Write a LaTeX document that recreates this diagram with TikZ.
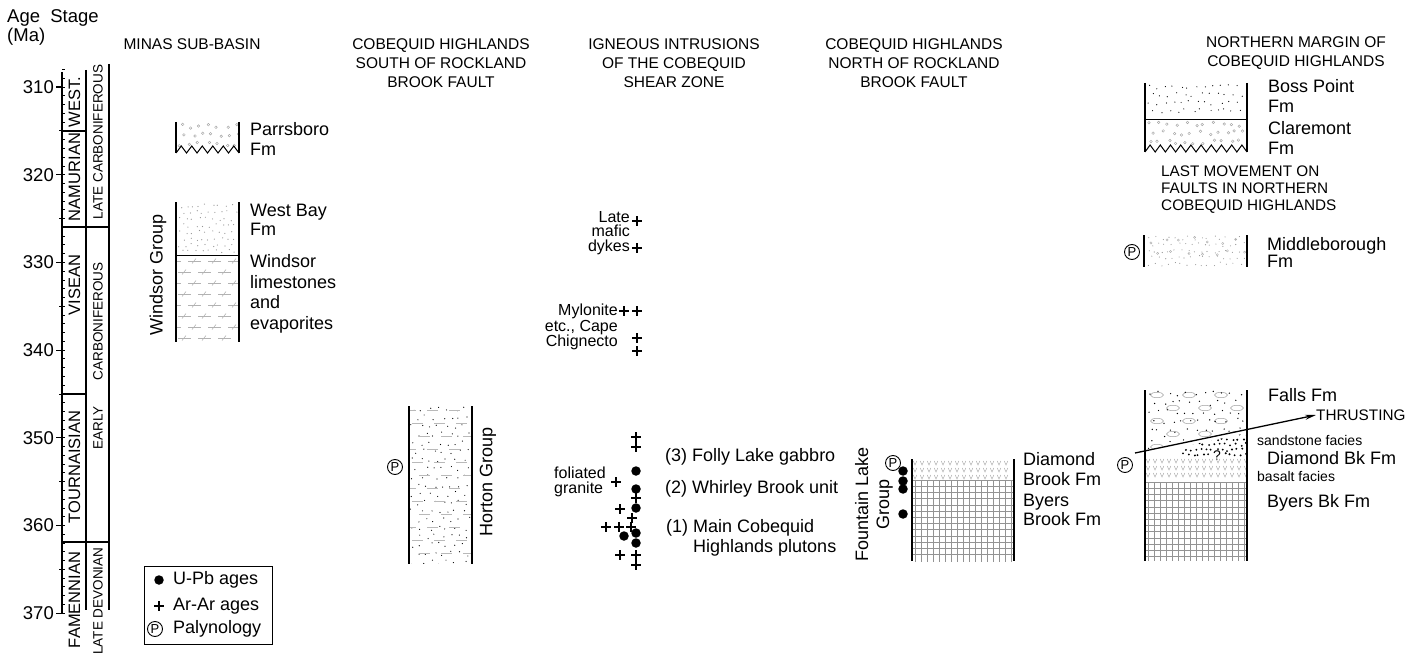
\documentclass[tikz,border=0pt]{standalone}
\usepackage{fontspec}
\setmainfont{Liberation Sans}
\usetikzlibrary{arrows.meta}
\newcommand\jdots[7]{\pgfmathtruncatemacro\jnx{(#3-#1)/#5}\pgfmathtruncatemacro\jny{(#4-#2)/#5}\foreach \ji in {0,...,\jnx}{\foreach \jj in {0,...,\jny}{\pgfmathsetmacro\rpx{#1+(\ji+0.5*mod(\jj,2))*#5+(rnd-0.5)*#5*0.6}\pgfmathsetmacro\rpy{#2+\jj*#5+(rnd-0.5)*#5*0.6}\fill[#6] (\rpx,\rpy) circle[radius=#7];}}}
\newcommand\jcircs[7]{\pgfmathtruncatemacro\jnx{(#3-#1)/#5}\pgfmathtruncatemacro\jny{(#4-#2)/#5}\foreach \ji in {0,...,\jnx}{\foreach \jj in {0,...,\jny}{\pgfmathsetmacro\rpx{#1+(\ji+0.5*mod(\jj,2))*#5+(rnd-0.5)*#5*0.5}\pgfmathsetmacro\rpy{#2+\jj*#5+(rnd-0.5)*#5*0.5}\draw[#6] (\rpx,\rpy) circle[radius=#7];}}}
\newcommand\vmarks[4]{\foreach \vy in {#4}{\foreach \vx in {#1,#2,...,#3}{\draw[gray!70,line width=0.45pt] (\vx-1.8,\vy-2)--(\vx,\vy+2)--(\vx+1.8,\vy-2);}}}
\begin{document}
\begin{tikzpicture}[x=1pt,y=-1pt,
  every node/.style={inner sep=0pt},
  lbl/.style={font=\fontsize{18}{19.5}\selectfont, align=left, anchor=west},
  sml/.style={font=\fontsize{16}{15}\selectfont},
  hdr/.style={font=\fontsize{15.5}{19}\selectfont, align=center},
  stg/.style={font=\fontsize{16.5}{16}\selectfont, rotate=90},
  per/.style={font=\fontsize{13.5}{13}\selectfont, rotate=90},
  side/.style={line width=2pt},
  bnd/.style={line width=1pt},
  pc/.style={circle, draw, line width=0.9pt, minimum size=15pt, font=\fontsize{13}{13}\selectfont},
  dt/.style={circle, fill, minimum size=9.5pt},
  pl/.style={minimum size=9pt, append after command={(\tikzlastnode.north) edge[line width=1.3pt] (\tikzlastnode.south) (\tikzlastnode.west) edge[line width=1.3pt] (\tikzlastnode.east)}},
  gr/.style={gray!70, line width=0.45pt},
]
\useasboundingbox (0,0) rectangle (1416,658);
\pgfmathsetseed{7}

% ---------- time scale ----------
\node[lbl, font=\fontsize{18.5}{19}\selectfont] (agehd) at (7,27) {Age\ \ Stage\\(Ma)};
\draw[line width=1.2pt] (62,72) -- (62,613);
\foreach \a in {308,...,370}{\draw[line width=0.8pt] (62,{87+(\a-310)*8.77}) -- ++(3,0);}
\foreach \a in {310,315,...,370}{\draw[line width=0.8pt] (62,{87+(\a-310)*8.77}) -- ++(-3.5,0);}
\foreach \a in {310,320,...,370}{\draw[line width=1.2pt] (62,{87+(\a-310)*8.77}) -- ++(-6,0);
  \node[anchor=east, font=\fontsize{18.5}{18}\selectfont] (t\a) at (54,{87+(\a-310)*8.77}) {\a};}
\draw[line width=1.2pt] (86,70) -- (86,610);
\draw[line width=1.2pt] (109,64) -- (109,610);
\draw[line width=1.2pt] (62,131) -- (86,131);
\draw[line width=1.2pt] (62,227) -- (109,227);
\draw[line width=1.2pt] (62,394) -- (86,394);
\draw[line width=1.2pt] (62,542) -- (109,542);
\node[stg] (west) at (74.5,102) {WEST.};
\node[stg] (namur) at (74.5,177) {NAMURIAN};
\node[stg] (visean) at (74.5,285) {VISEAN};
\node[stg] (tourn) at (74.5,467) {TOURNAISIAN};
\node[stg] (famen) at (74.5,600) {FAMENNIAN};
\node[per] (latecarb) at (98,142) {LATE CARBONIFEROUS};
\node[per] (earlycarb) at (98,356) {EARLY\hspace{26pt}CARBONIFEROUS};
\node[per] (latedev) at (98,601) {LATE DEVONIAN};

% ---------- headers ----------
\node[hdr] (h1) at (192,44) {MINAS SUB-BASIN};
\node[hdr] (h2) at (441,63) {COBEQUID HIGHLANDS\\SOUTH OF ROCKLAND\\BROOK FAULT};
\node[hdr] (h3) at (674,63) {IGNEOUS INTRUSIONS\\OF THE COBEQUID\\SHEAR ZONE};
\node[hdr] (h4) at (914,63) {COBEQUID HIGHLANDS\\NORTH OF ROCKLAND\\BROOK FAULT};
\node[hdr] (h5) at (1296,53) {NORTHERN MARGIN OF\\COBEQUID HIGHLANDS};

% ---------- Minas sub-basin ----------
\jcircs{181}{126}{236}{146}{9}{gray!70, line width=0.45pt}{1.3pt}
\draw[side] (176,122) -- (176,153);
\draw[side] (239,122) -- (239,153);
\draw[line width=1pt] (176,153) \foreach \i in {1,...,6}{ -- ({176+(\i-0.5)*10.5},146) -- ({176+\i*10.5},153)};
\node[lbl] (parrs) at (250,139) {Parrsboro\\Fm};

\jdots{180}{206}{236}{252}{6.5}{gray!85}{0.6pt}
\begin{scope}
\clip (176,256) rectangle (239,342);
\foreach \r in {0,...,7}{
  \pgfmathsetmacro\ry{261+\r*11}
  \pgfmathsetmacro\ro{mod(\r,2)*10}
  \foreach \i in {0,1,2,3}{
    \draw[gray!60, line width=0.55pt] ({168+\ro+\i*20},\ry) -- ++(13,0);
    \draw[gray!60, line width=0.55pt] ({172+\ro+\i*20},\ry+2.5) -- ++(4,-5);
  }}
\end{scope}
\draw[side] (176,202) -- (176,342);
\draw[side] (239,202) -- (239,342);
\draw[bnd] (176,255) -- (239,255);
\node[lbl] (westbay) at (250,220) {West Bay\\Fm};
\node[lbl, font=\fontsize{18}{20.5}\selectfont] (windsor) at (250,294) {Windsor\\limestones\\and\\evaporites};
\node[font=\fontsize{18}{18}\selectfont, rotate=90] (windgrp) at (158,275) {Windsor Group};

% ---------- Horton ----------
\begin{scope}
\clip (409,406) rectangle (472,563);
\jdots{413}{409}{470}{563}{8.5}{black}{0.6pt}
\foreach \r in {0,...,11}{
  \pgfmathsetmacro\ry{410+\r*13}
  \pgfmathsetmacro\ro{mod(\r,3)*7}
  \foreach \i in {0,1,2}{
    \draw[gray!55, line width=0.6pt] ({405+\ro+\i*22},\ry) -- ++(11,0);
  }}
\end{scope}
\draw[side] (409,406) -- (409,564);
\draw[side] (472,406) -- (472,564);
\node[pc] (pHort) at (395,467) {P};
\node[font=\fontsize{18}{18}\selectfont, rotate=90] (horton) at (488,482) {Horton Group};

% ---------- Igneous intrusions ----------
\node[sml, align=right, anchor=east, font=\fontsize{16}{14.5}\selectfont] (dykes) at (630,233) {Late\\mafic\\dykes};
\node[sml, align=right, anchor=east, font=\fontsize{16}{15.5}\selectfont] (mylo) at (618,327) {Mylonite\\etc., Cape\\Chignecto};
\node[sml, align=left, anchor=west, font=\fontsize{16}{14.5}\selectfont] (folgr) at (554,482) {foliated\\granite};
\foreach \n/\x/\y in {a/637/221, b/637/248, c/624/311, d/637/311, e/637/338, f/637/351, g/636/437, h/636/447, i/616/482, j/636/498, k/620/509, l/632/518, m/606/527, n/619/527, o/631/527, p/620/555, q/636/555, r/636/565}{
  \node[pl] (ar\n) at (\x,\y) {};}
\foreach \n/\x/\y in {a/636/471, b/636/489, c/636/508, d/624/536, e/636/533, f/636/543}{
  \node[dt] (up\n) at (\x,\y) {};}
\node[lbl] (folly) at (665,457) {(3) Folly Lake gabbro};
\node[lbl] (whirl) at (665,489) {(2) Whirley Brook unit};
\node[lbl] (mainc) at (666,538) {(1) Main Cobequid\\\phantom{(1) }Highlands plutons};

% ---------- Fountain Lake ----------
\vmarks{915}{922}{1012}{463,470,477}
\foreach \gx in {915,921,...,1012}{\draw[gray!85, line width=0.5pt] (\gx,480) -- (\gx,562);}
\foreach \gy in {480,486.2,...,557}{\draw[gray!85, line width=0.5pt] (912,\gy) -- (1014,\gy);}
\draw[side] (912,459) -- (912,561);
\draw[side] (1014,459) -- (1014,561);
\foreach \n/\y in {a/471, b/481, c/489, d/514}{\node[dt] (fl\n) at (903,\y) {};}
\node[pc] (pFount) at (893,463) {P};
\node[font=\fontsize{18}{21}\selectfont, rotate=90, align=center] (fountain) at (874,504) {Fountain Lake\\Group};
\node[lbl] (diamond1) at (1023,469) {Diamond\\Brook Fm};
\node[lbl] (byers1) at (1023,510) {Byers\\Brook Fm};

% ---------- Northern margin ----------
\jdots{1149}{87}{1243}{118}{8}{black}{0.6pt}
\jcircs{1150}{124}{1242}{144}{9}{gray!70, line width=0.45pt}{1.3pt}
\draw[side] (1145,83) -- (1145,152);
\draw[side] (1247,83) -- (1247,152);
\draw[bnd] (1145,120) -- (1247,120);
\draw[line width=1pt] (1145,152) \foreach \i in {1,...,10}{ -- ({1145+(\i-0.5)*10.2},145) -- ({1145+\i*10.2},152)};
\node[lbl] (boss) at (1268,96) {Boss Point\\Fm};
\node[lbl] (clare) at (1268,138) {Claremont\\Fm};
\node[lbl, font=\fontsize{15.3}{17}\selectfont] (lastmv) at (1161,190) {LAST MOVEMENT ON\\FAULTS IN NORTHERN\\COBEQUID HIGHLANDS};

\jdots{1149}{238}{1243}{265}{6.5}{gray!85}{0.55pt}
\jcircs{1152}{240}{1240}{262}{14}{gray!65, line width=0.4pt}{1.1pt}
\draw[side] (1144,235) -- (1144,267);
\draw[side] (1247,235) -- (1247,267);
\node[pc] (pMidd) at (1132,252) {P};
\node[lbl, font=\fontsize{18}{17}\selectfont] (midd) at (1267,252) {Middleborough\\Fm};

\begin{scope}
\clip (1145,390) -- (1247,390) -- (1247,429) -- (1145,451) -- cycle;
\foreach \r in {0,...,4}{
  \pgfmathsetmacro\ry{395+\r*13}
  \pgfmathsetmacro\ro{mod(\r,2)*16}
  \foreach \i in {0,...,3}{
    \draw[gray!75, line width=0.5pt] ({1157+\ro+\i*32},\ry) ellipse[x radius=6.5pt, y radius=2.7pt];
  }}
\jdots{1150}{394}{1244}{450}{9}{black}{0.7pt}
\end{scope}
\begin{scope}
\clip (1181,447) -- (1247,433) -- (1247,458) -- (1181,458) -- cycle;
\jdots{1183}{434}{1247}{458}{5.2}{black}{1.05pt}
\end{scope}
\node[font=\fontsize{14}{14}\selectfont, fill=white, inner sep=0.5pt] (qm) at (1217,456) {?};
\vmarks{1148}{1155}{1246}{461,468,475}
\foreach \gx in {1148,1154,...,1246}{\draw[gray!85, line width=0.5pt] (\gx,482) -- (\gx,561);}
\foreach \gy in {482,488.2,...,558}{\draw[gray!85, line width=0.5pt] (1145,\gy) -- (1247,\gy);}
\draw[side] (1145,390) -- (1145,561);
\draw[side] (1247,390) -- (1247,561);
\node[pc] (pFalls) at (1125,465) {P};
\node[lbl] (falls) at (1268,395) {Falls Fm};
\node[lbl, font=\fontsize{15.3}{15}\selectfont] (thrust) at (1316,415) {THRUSTING};
\coordinate (thA) at (1135,453);
\draw[line width=1.3pt, -{Stealth[length=11pt,width=5pt]}] (thA) -- (thrust.west);
\node[lbl, font=\fontsize{14}{14}\selectfont] (sandf) at (1257,440) {sandstone facies};
\node[lbl] (diamond2) at (1267,458) {Diamond Bk Fm};
\node[lbl, font=\fontsize{14}{14}\selectfont] (basf) at (1257,476) {basalt facies};
\node[lbl] (byers2) at (1267,503) {Byers Bk Fm};

% ---------- legend ----------
\draw[line width=1pt] (144,566) rectangle (272,644);
\node[dt] (legdot) at (159,580) {};
\node[pl] (legplus) at (159,606) {};
\node[pc] (legP) at (155,629) {P};
\node[lbl] (legU) at (173,580) {U-Pb ages};
\node[lbl] (legA) at (173,606) {Ar-Ar ages};
\node[lbl] (legPal) at (173,629) {Palynology};
\end{tikzpicture}
\end{document}
